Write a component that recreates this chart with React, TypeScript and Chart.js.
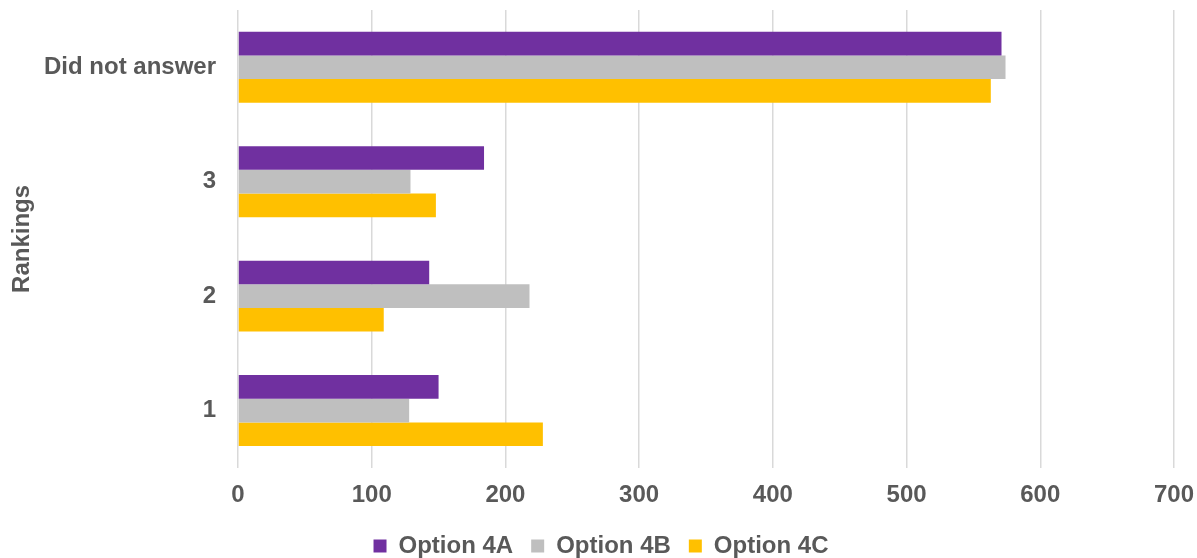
import React, { useEffect, useRef } from "react";
import { Chart, registerables } from "chart.js";

Chart.register(...registerables);

const categories = ["Did not answer", "3", "2", "1"];
const seriesNames = ["Option 4A", "Option 4B", "Option 4C"];
const option4A = [571, 184, 143, 150];
const option4B = [574, 129, 218, 128];
const option4C = [563, 148, 109, 228];
const seriesColors = ["#7030A0", "#BFBFBF", "#FFC000"];
const xTicks = [0, 100, 200, 300, 400, 500, 600, 700];

const W = 1197;
const H = 568;

const legendShift = {
  id: "legendShift",
  afterLayout(chart: any) {
    if (chart.legend) {
      chart.legend.left += 14;
      chart.legend.right += 14;
    }
  },
};

export default function App() {
  const ref = useRef<HTMLCanvasElement>(null);
  useEffect(() => {
    document.body.style.margin = "0";
    document.body.style.overflow = "hidden";
    const canvas = ref.current;
    if (!canvas) return;
    const font = { family: "'Liberation Sans', Arial, sans-serif", size: 24, weight: "bold" as const };
    const textColor = "#595959";
    const chart = new Chart(canvas, {
      type: "bar",
      data: {
        labels: categories,
        datasets: [option4A, option4B, option4C].map((d, i) => ({
          label: seriesNames[i],
          data: d,
          backgroundColor: seriesColors[i],
          borderWidth: 0,
          categoryPercentage: 0.62,
          barPercentage: 1.0,
        })),
      },
      plugins: [legendShift],
      options: {
        indexAxis: "y",
        animation: false,
        responsive: false,
        maintainAspectRatio: false,
        layout: { padding: { top: 10, right: 23, left: 0, bottom: 0 } },
        plugins: {
          tooltip: { enabled: false },
          legend: {
            position: "bottom",
            labels: {
              font,
              color: textColor,
              boxWidth: 13,
              boxHeight: 13,
              padding: 18,
            },
          },
        },
        scales: {
          x: {
            min: 0,
            max: 700,
            afterBuildTicks: (scale: any) => {
              scale.ticks = xTicks.map((v) => ({ value: v }));
            },
            afterFit: (scale: any) => {
              scale.height = 48.2;
              scale.paddingLeft = 0;
              scale.paddingRight = 0;
            },
            ticks: { font, color: textColor, padding: 13, stepSize: 100 },
            grid: { color: "#D9D9D9", lineWidth: 1.5, drawTicks: false },
            border: { display: false },
          },
          y: {
            afterFit: (scale: any) => {
              scale.width = 238;
              scale.paddingTop = 0;
              scale.paddingBottom = 0;
            },
            ticks: { font, color: textColor, padding: 22 },
            grid: { display: false, drawTicks: false },
            border: { display: false },
            title: {
              display: true,
              text: "Rankings",
              font,
              color: textColor,
              padding: { top: 8, bottom: 0 },
            },
          },
        },
      },
    });
    return () => chart.destroy();
  }, []);
  return (
    <div style={{ width: W, height: 558, overflow: "hidden" }}>
      <canvas ref={ref} width={W} height={H} style={{ display: "block" }} />
    </div>
  );
}
